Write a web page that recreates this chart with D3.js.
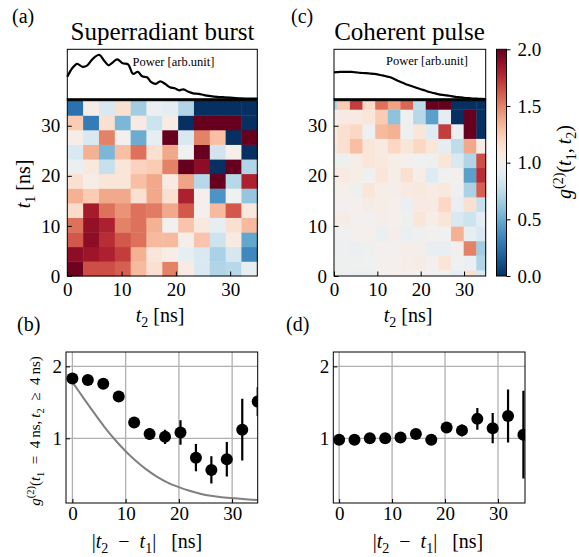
<!DOCTYPE html>
<html><head><meta charset="utf-8">
<script src="https://cdn.jsdelivr.net/npm/d3@7"></script>
<style>
body{margin:0;background:#fff}
svg text{font-family:"Liberation Serif","DejaVu Serif",serif !important}
</style>
</head><body>
<svg id="c" width="579" height="557"></svg>
<script>
// ---------------- data ----------------
const timeEdgesBurst = [0, 2.92, 5.83, 8.75, 11.67, 14.58, 17.5, 20.42, 23.33, 26.25, 29.17, 32.08, 35];
const timeEdgesPulseT2 = [0, 0.75, 3.67, 6.58, 9.5, 12.42, 15.33, 18.25, 21.17, 24.08, 27.0, 29.92, 32.83, 35];
const timeEdgesPulseT1 = [0, 1.2, 4.12, 7.03, 9.95, 12.87, 15.78, 18.7, 21.62, 24.53, 27.45, 30.37, 33.28, 35];

// rows: t1 bin from bottom (0) to top; columns: t2 bins
const g2Burst = [
  [1.98,1.65,1.65,1.6,1.32,1.15,1.5,1.07,0.85,0.7,0.72,0.92],
  [1.9,1.85,1.8,1.7,1.35,1.12,1.05,0.92,0.85,0.68,0.84,0.35],
  [1.62,1.9,1.75,1.62,1.55,1.32,1.32,1.04,1.28,0.8,1.08,0.48],
  [1.55,1.88,1.8,1.5,1.55,1.35,0.99,1.28,1.1,0.92,1.15,1.32],
  [1.18,1.82,1.55,1.45,1.55,1.52,1.38,1.62,1.02,1.32,1.62,1.1],
  [1.35,1.25,1.38,1.38,1.15,1.38,1.15,1.8,1.02,0.4,0.98,0.62],
  [1.15,1.05,1.12,1.12,1.3,1.38,1.08,1.4,0.72,2.0,0.72,1.8],
  [0.95,1.1,0.78,1.12,1.22,1.25,1.5,2.0,1.9,0.0,2.0,0.7],
  [0.85,1.35,0.55,1.3,1.55,1.15,1.38,0.98,2.0,0.82,1.03,0.0],
  [1.05,0.85,1.5,1.0,0.5,0.92,2.0,0.85,1.5,1.3,0.0,2.0],
  [1.25,0.3,1.15,0.55,1.08,0.8,1.07,0.0,2.0,2.0,2.0,0.0],
  [0.25,1.05,0.85,1.15,0.65,0.95,0.9,0.7,0.0,0.0,0.0,0.0]
];
const g2Pulse = [
  [0.97,0.96,0.95,0.95,1.0,1.02,1.02,0.98,1.0,0.98,0.92,1.15,0.85],
  [0.97,0.97,0.97,0.98,1.02,1.02,1.05,1.06,1.0,1.12,0.98,0.94,0.7],
  [0.96,0.96,0.95,0.97,1.0,0.99,1.04,1.04,0.93,0.93,1.0,1.5,0.65],
  [0.97,0.98,1.02,1.03,0.94,1.04,0.94,0.97,1.0,0.98,1.35,0.92,0.85],
  [1.06,1.06,1.0,1.0,1.04,1.02,0.97,1.12,1.05,1.12,0.85,0.8,0.9],
  [1.0,1.0,1.02,1.06,1.05,1.03,0.95,1.08,1.08,1.2,0.93,1.15,0.78],
  [1.02,1.03,0.97,1.12,1.05,1.04,1.08,1.1,1.07,1.1,0.97,0.68,1.6],
  [1.08,1.08,1.05,0.98,1.12,1.05,1.15,1.05,0.88,0.98,1.02,0.45,1.75],
  [0.97,0.97,1.05,1.12,1.1,1.05,1.02,0.98,0.97,1.12,0.85,0.7,1.65],
  [1.1,1.15,1.3,1.12,1.08,1.2,1.12,1.2,1.12,0.9,0.75,1.38,1.06],
  [1.05,1.15,1.2,0.96,1.32,1.35,0.97,1.12,0.88,1.7,0.95,2.0,0.0],
  [1.0,1.08,1.08,1.12,1.25,0.6,0.97,0.72,0.45,0.9,0.0,2.0,0.0],
  [0.7,1.25,1.7,1.18,1.55,1.4,1.58,0.75,2.0,2.0,0.0,0.0,0.0]
];

const powerBurstTime = [0,0.9,1.8,2.8,3.7,4.7,5.9,6.8,7.6,8.4,9.2,10.2,11.2,12.1,13.0,13.8,14.7,15.4,16.3,17.1,18.0,18.9,19.8,20.6,21.4,22.3,23.2,24.2,25.2,26.4,27.6,29.0,30.5,32.0,33.5,35];
const powerBurst = [0.45,0.62,0.71,0.65,0.68,0.81,0.89,0.77,0.68,0.74,0.8,0.72,0.70,0.51,0.55,0.46,0.44,0.35,0.31,0.36,0.31,0.24,0.22,0.18,0.2,0.15,0.12,0.11,0.085,0.065,0.05,0.04,0.03,0.02,0.015,0.015];
const powerPulseTime = [0,1,2,3,4,5,6,7,8,9,10,11,12,13,14,15,16,17,18,19,20,21,22,23,24,25,26,27,28,29,30,31,32,33,34,35];
const powerPulse = [0.54,0.545,0.55,0.55,0.548,0.54,0.53,0.525,0.52,0.51,0.5,0.48,0.46,0.44,0.4,0.36,0.325,0.29,0.26,0.23,0.2,0.175,0.145,0.125,0.105,0.09,0.08,0.065,0.05,0.04,0.03,0.022,0.016,0.012,0.008,0.006];

const lagTimes = [0,2.9,5.8,8.7,11.6,14.5,17.4,20.3,23.2,26.1,29.0,31.9,34.8];
const g2CutBurst = [1.83,1.81,1.76,1.58,1.22,1.06,1.02,1.08,0.73,0.56,0.71,1.12,1.51];
const errCutBurst = [0.03,0.03,0.04,0.05,0.06,0.08,0.1,0.17,0.19,0.19,0.24,0.43,0.2];
const g2CutPulse = [0.98,0.98,1.0,1.0,1.01,1.06,0.98,1.15,1.11,1.27,1.14,1.31,1.05];
const errCutPulse = [0.02,0.02,0.02,0.03,0.03,0.04,0.05,0.06,0.08,0.15,0.21,0.37,0.61];

const modelTime = [0,2,4,6,8,10,12,14,16,18,20,22,24,26,28,30,32,35];
const modelG2 = [1.78,1.57,1.36,1.16,0.98,0.82,0.68,0.56,0.46,0.38,0.32,0.27,0.23,0.2,0.18,0.17,0.155,0.14];

const heatTicks = [0,10,20,30];
const cbarTicks = [0,0.5,1,1.5,2];
const cutXTicks = [0,10,20,30];
const cutYTicks = [1,2];

// ---------------- drawing ----------------
const svg = d3.select("#c");
const color = v => d3.interpolateRdBu(1 - Math.max(0, Math.min(2, v)) / 2);
const TICK_FS = 19;

function rich(sel, parts, size){
  let cur = 0;
  parts.forEach(p=>{
    const ts = sel.append("tspan").text(p.t);
    const target = p.sub ? size*0.25 : p.sup ? -size*0.4 : 0;
    if (target !== cur) ts.attr("dy", target - cur);
    cur = target;
    if (p.sub || p.sup) ts.attr("font-size", size*0.7);
    if (p.i) ts.attr("font-style", "italic");
  });
  return sel;
}
function label(x, y, parts, size, anchor, rotate){
  const t = svg.append("text")
    .attr("transform", `translate(${x},${y})` + (rotate ? " rotate(-90)" : ""))
    .attr("text-anchor", anchor || "middle")
    .attr("font-size", size).attr("fill", "#000");
  return rich(t, parts, size);
}
function styleAxis(g, fs){
  g.select(".domain").remove();
  g.selectAll(".tick line").attr("stroke", "#000").attr("stroke-width", 1);
  g.selectAll(".tick text").attr("font-size", fs).attr("fill", "#000");
}

const yHeat = d3.scaleLinear([0,35],[276,100.7]);
const yPow = d3.scaleLinear([0,1],[99.3,49.3]);

function heatPanel(x0, x1, edgesT2, edgesT1, mat, powT, powV){
  const x = d3.scaleLinear([0,35],[x0,x1]);
  const g = svg.append("g");
  mat.forEach((row,i)=>{
    row.forEach((v,j)=>{
      g.append("rect")
        .attr("x", x(edgesT2[j]))
        .attr("y", yHeat(edgesT1[i+1]))
        .attr("width", x(edgesT2[j+1]) - x(edgesT2[j]) + 0.4)
        .attr("height", yHeat(edgesT1[i]) - yHeat(edgesT1[i+1]) + 0.4)
        .attr("fill", color(v));
    });
  });
  const ax = svg.append("g").attr("transform", `translate(0,276)`)
    .call(d3.axisBottom(x).tickValues(heatTicks).tickFormat(d3.format("d")).tickSize(-4.5).tickPadding(7));
  styleAxis(ax, TICK_FS);
  const ay = svg.append("g").attr("transform", `translate(${x0},0)`)
    .call(d3.axisLeft(yHeat).tickValues(heatTicks).tickFormat(d3.format("d")).tickSize(-4.5).tickPadding(7));
  styleAxis(ay, TICK_FS);
  svg.append("rect").attr("x", x0).attr("y", 100.7).attr("width", x1-x0).attr("height", 276-100.7)
    .attr("fill","none").attr("stroke","#000").attr("stroke-width",1);

  // power trace
  svg.append("rect").attr("x", x0).attr("y", 49.3).attr("width", x1-x0).attr("height", 50)
    .attr("fill","none").attr("stroke","#000").attr("stroke-width",1);
  const line = d3.line().x((d,i)=>x(powT[i])).y(d=>yPow(d)).curve(d3.curveCatmullRom);
  svg.append("path").datum(powV).attr("d", line).attr("fill","none")
    .attr("stroke","#000").attr("stroke-width",2.2).attr("stroke-linejoin","round");
  svg.append("line").attr("x1", x0-0.5).attr("x2", x1+0.5).attr("y1", 99.5).attr("y2", 99.5)
    .attr("stroke","#000").attr("stroke-width",2.6);
  return x;
}

const xA = heatPanel(67.3, 257.3, timeEdgesBurst, timeEdgesBurst, g2Burst, powerBurstTime, powerBurst);
const xC = heatPanel(334, 485.7, timeEdgesPulseT2, timeEdgesPulseT1, g2Pulse, powerPulseTime, powerPulse);

svg.append("text").attr("x", 132.5).attr("y", 65.5).attr("font-size", 12.5).text("Power [arb.unit]");
svg.append("text").attr("x", 386).attr("y", 65).attr("font-size", 12.5).text("Power [arb.unit]");

// titles and panel letters
svg.append("text").attr("x", 162.5).attr("y", 39.5).attr("text-anchor","middle").attr("font-size", 25).text("Superradiant burst");
svg.append("text").attr("x", 409.5).attr("y", 39.5).attr("text-anchor","middle").attr("font-size", 25).text("Coherent pulse");
svg.append("text").attr("x", 12).attr("y", 23).attr("font-size", 20).text("(a)");
svg.append("text").attr("x", 291).attr("y", 23).attr("font-size", 20).text("(c)");
svg.append("text").attr("x", 17).attr("y", 331).attr("font-size", 20).text("(b)");
svg.append("text").attr("x", 286).attr("y", 331).attr("font-size", 20).text("(d)");

const t2ns = [{t:"t",i:true},{t:"2",sub:true},{t:"\u00a0[ns]"}];
label(160, 322, t2ns, 20);
label(408, 322, t2ns, 20);
label(30, 184, [{t:"t",i:true},{t:"1",sub:true},{t:"\u00a0[ns]"}], 20, "middle", true);

// colorbar
const yCb = d3.scaleLinear([0,2],[276,49.3]);
const defs = svg.append("defs");
const grad = defs.append("linearGradient").attr("id","cbg").attr("x1",0).attr("x2",0).attr("y1",1).attr("y2",0);
d3.range(0,1.0001,0.05).forEach(f=>grad.append("stop").attr("offset", f).attr("stop-color", color(f*2)));
svg.append("rect").attr("x",496.5).attr("y",49.3).attr("width",10).attr("height",276-49.3)
  .attr("fill","url(#cbg)").attr("stroke","#000").attr("stroke-width",1);
const acb = svg.append("g").attr("transform","translate(506.5,0)")
  .call(d3.axisRight(yCb).tickValues(cbarTicks).tickFormat(d3.format(".1f")).tickSize(4).tickPadding(7));
styleAxis(acb, TICK_FS);
label(571, 162, [{t:"g",i:true},{t:"(2)",sup:true},{t:"("},{t:"t",i:true},{t:"1",sub:true},{t:",\u2009"},{t:"t",i:true},{t:"2",sub:true},{t:")"}], 20, "middle", true);

// bottom panels
const yCut = d3.scaleLinear([0.1,2.2],[503,352]);
function cutPanel(x0, x1, xDomain, vals, errs, id){
  const x = d3.scaleLinear(xDomain,[x0,x1]);
  const g = svg.append("g");
  cutXTicks.forEach(t=>g.append("line").attr("x1",x(t)).attr("x2",x(t)).attr("y1",352).attr("y2",503)
    .attr("stroke","#b0b0b0").attr("stroke-width",1.3));
  cutYTicks.forEach(t=>g.append("line").attr("x1",x0).attr("x2",x1).attr("y1",yCut(t)).attr("y2",yCut(t))
    .attr("stroke","#b0b0b0").attr("stroke-width",1.3));
  defs.append("clipPath").attr("id", id).append("rect").attr("x",x0).attr("y",352).attr("width",x1-x0).attr("height",151);
  const c = svg.append("g").attr("clip-path", `url(#${id})`);
  const ax = svg.append("g").attr("transform","translate(0,503)")
    .call(d3.axisBottom(x).tickValues(cutXTicks).tickFormat(d3.format("d")).tickSize(-4).tickPadding(4));
  styleAxis(ax, TICK_FS);
  const ay = svg.append("g").attr("transform",`translate(${x0},0)`)
    .call(d3.axisLeft(yCut).tickValues(cutYTicks).tickFormat(d3.format("d")).tickSize(-4).tickPadding(4));
  styleAxis(ay, TICK_FS);
  svg.append("rect").attr("x",x0).attr("y",352).attr("width",x1-x0).attr("height",151)
    .attr("fill","none").attr("stroke","#000").attr("stroke-width",1);
  return {x, c, vals, errs};
}
function drawPoints(p){
  p.vals.forEach((v,i)=>{
    p.c.append("line").attr("x1",p.x(lagTimes[i])).attr("x2",p.x(lagTimes[i]))
      .attr("y1",yCut(v-p.errs[i])).attr("y2",yCut(v+p.errs[i]))
      .attr("stroke","#000").attr("stroke-width",2.2);
    p.c.append("circle").attr("cx",p.x(lagTimes[i])).attr("cy",yCut(v)).attr("r",6).attr("fill","#000");
  });
}
const pB = cutPanel(66, 257.7, [-1.2,34.8], g2CutBurst, errCutBurst, "clipB");
const modelLine = d3.line().x((d,i)=>pB.x(modelTime[i])).y(d=>yCut(d)).curve(d3.curveMonotoneX);
pB.c.append("path").datum(modelG2).attr("d", modelLine).attr("fill","none").attr("stroke","#808080").attr("stroke-width",2);
drawPoints(pB);
const pD = cutPanel(333.3, 525, [-1.1,35.1], g2CutPulse, errCutPulse, "clipD");
drawPoints(pD);

const lagLabel = [{t:"|"},{t:"t",i:true},{t:"2",sub:true},{t:"\u2002−\u2002"},{t:"t",i:true},{t:"1",sub:true},{t:"|\u00a0\u00a0\u00a0[ns]"}];
label(147, 548, lagLabel, 20);
label(428, 548, lagLabel, 20);
label(40, 431, [{t:"g",i:true},{t:"(2)",sup:true},{t:"("},{t:"t",i:true},{t:"1",sub:true},{t:"\u2002=\u20024\u2009ns,\u2009"},{t:"t",i:true},{t:"2",sub:true},{t:"\u2002≥\u20024\u2009ns)"}], 15, "middle", true);
</script>
</body></html>
